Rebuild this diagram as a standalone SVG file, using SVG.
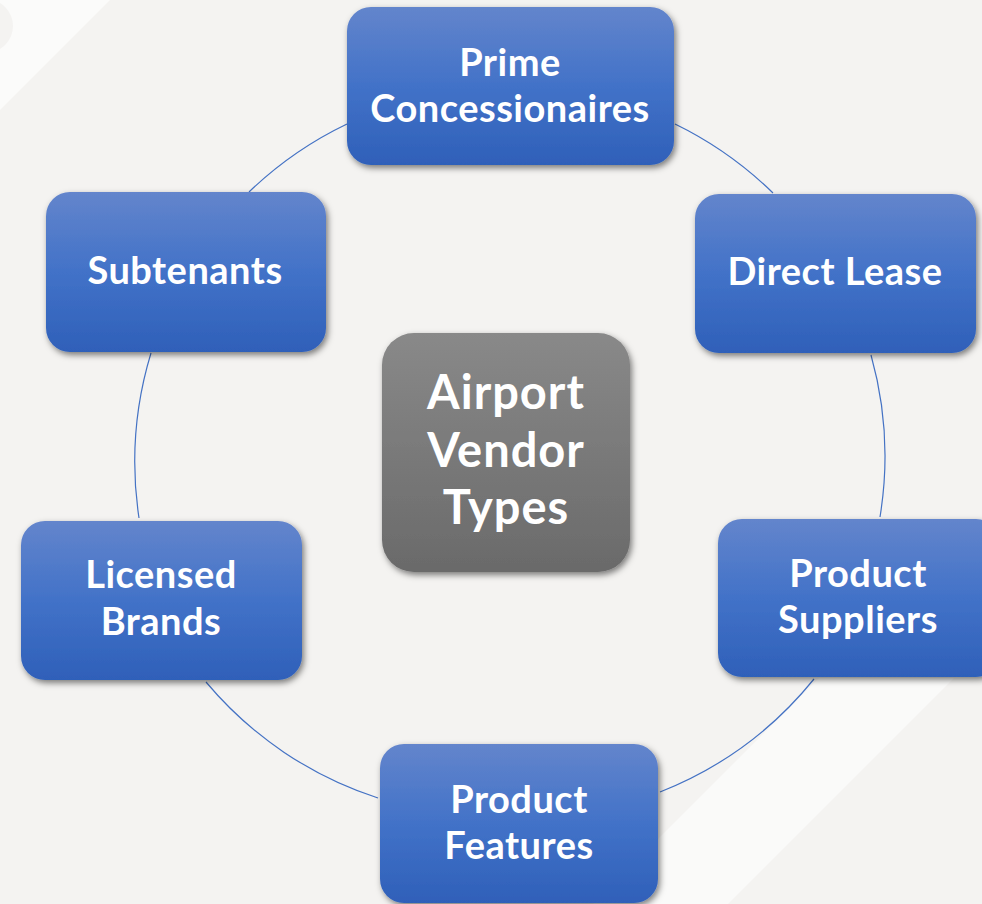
<svg xmlns="http://www.w3.org/2000/svg" width="982" height="904" viewBox="0 0 982 904">
  <defs>
    <linearGradient id="blueFill" x1="0" y1="0" x2="0" y2="1">
      <stop offset="0" stop-color="#6385cc"/>
      <stop offset="0.5" stop-color="#4272c8"/>
      <stop offset="1" stop-color="#2f60b9"/>
    </linearGradient>
    <linearGradient id="grayFill" x1="0" y1="0" x2="0" y2="1">
      <stop offset="0" stop-color="#898989"/>
      <stop offset="1" stop-color="#6a6a6a"/>
    </linearGradient>
    <filter id="shadow" x="-10%" y="-10%" width="125%" height="130%">
      <feDropShadow dx="2" dy="3" stdDeviation="3" flood-color="#000" flood-opacity="0.5"/>
    </filter>
    <style>
      .node { fill: url(#blueFill); filter: url(#shadow); }
      .hub { fill: url(#grayFill); filter: url(#shadow); }
      .label { fill: #ffffff; font-family: Lato, "Open Sans", "Liberation Sans", sans-serif; font-weight: 700; font-size: 38px; letter-spacing: 0.5px; text-anchor: middle; }
      .hub-label { font-size: 47px; letter-spacing: 1px; }
      .link { fill: none; stroke: #4472c4; stroke-width: 1.2; }
    </style>
  </defs>

  <!-- backdrop -->
  <rect width="982" height="904" fill="#f4f3f1"/>
  <polygon points="0,0 110,0 0,110" fill="#fbfbfa"/>
  <circle cx="-14" cy="26" r="27" fill="#f4f3f1"/>
  <polygon points="593,904 819,678 954,678 728,904" fill="#fafaf9"/>

  <!-- ring connectors -->
  <g id="connectors">
    <path class="link" d="M675,124 A375,375 0 0 1 773,193"/>
    <path class="link" d="M871,355 A375,375 0 0 1 880,517"/>
    <path class="link" d="M814,679 A375,375 0 0 1 660,792"/>
    <path class="link" d="M378,798 A375,375 0 0 1 206,682"/>
    <path class="link" d="M139,518 A375,375 0 0 1 151,353"/>
    <path class="link" d="M249,192 A375,375 0 0 1 347,124"/>
  </g>

  <g id="hub">
    <rect class="hub" x="382" y="333" width="248" height="239" rx="32"/>
    <text class="label hub-label"><tspan x="506" y="409">Airport</tspan><tspan x="506" y="467">Vendor</tspan><tspan x="506" y="524">Types</tspan></text>
  </g>

  <g id="prime-concessionaires">
    <rect class="node" x="347" y="7" width="327" height="158" rx="24"/>
    <text class="label"><tspan x="510" y="76">Prime</tspan><tspan x="510" y="122">Concessionaires</tspan></text>
  </g>

  <g id="direct-lease">
    <rect class="node" x="695" y="194" width="281" height="159" rx="24"/>
    <text class="label" x="835" y="285">Direct Lease</text>
  </g>

  <g id="product-suppliers">
    <rect class="node" x="718" y="519" width="282" height="158" rx="24"/>
    <text class="label"><tspan x="858" y="587">Product</tspan><tspan x="858" y="633">Suppliers</tspan></text>
  </g>

  <g id="product-features">
    <rect class="node" x="380" y="744" width="278" height="159" rx="24"/>
    <text class="label"><tspan x="519" y="813">Product</tspan><tspan x="519" y="859">Features</tspan></text>
  </g>

  <g id="licensed-brands">
    <rect class="node" x="21" y="521" width="281" height="159" rx="24"/>
    <text class="label"><tspan x="161" y="588">Licensed</tspan><tspan x="161" y="635">Brands</tspan></text>
  </g>

  <g id="subtenants">
    <rect class="node" x="46" y="192" width="280" height="160" rx="24"/>
    <text class="label" x="185" y="284">Subtenants</text>
  </g>
</svg>
